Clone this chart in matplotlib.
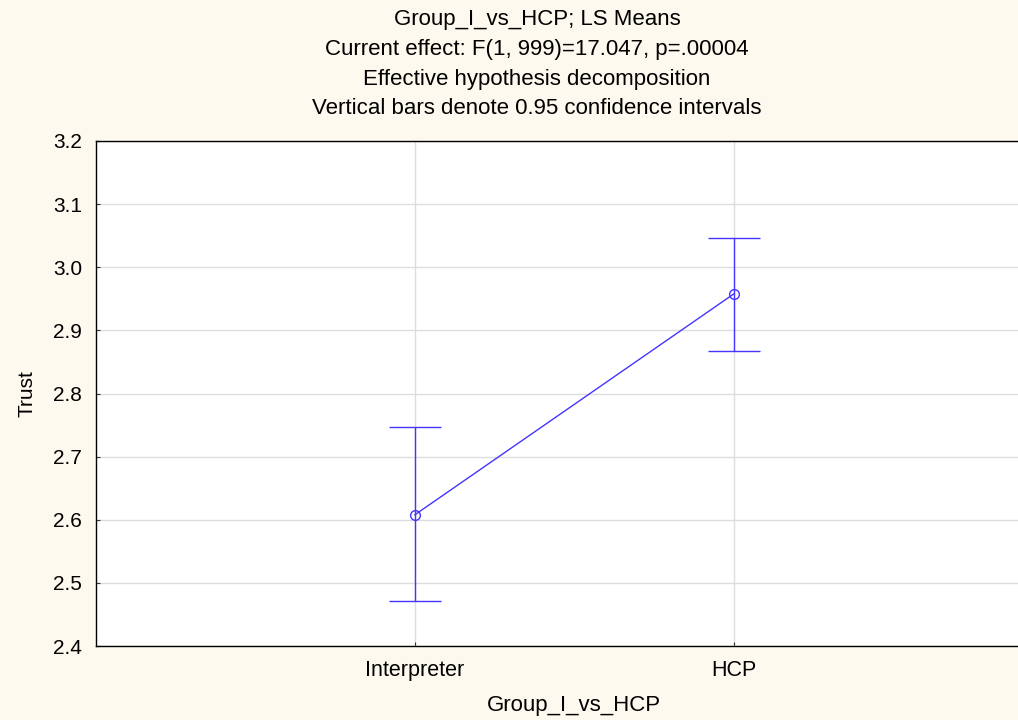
import matplotlib
matplotlib.use("Agg")
import matplotlib.pyplot as plt

categories = ["Interpreter", "HCP"]
means = [2.608, 2.958]
upper = [2.747, 3.047]
lower = [2.471, 2.867]
yticks = [2.4, 2.5, 2.6, 2.7, 2.8, 2.9, 3.0, 3.1, 3.2]
title_lines = ["Group_I_vs_HCP; LS Means",
               "Current effect: F(1, 999)=17.047, p=.00004",
               "Effective hypothesis decomposition",
               "Vertical bars denote 0.95 confidence intervals"]

plt.rcParams['font.family'] = ['Liberation Sans', 'DejaVu Sans']
bg = '#FEF9EE'
line_col = '#4634FF'

fig = plt.figure(figsize=(10.18, 7.2), dpi=100, facecolor=bg)
ax = fig.add_axes([96/1018, 74/720, 957/1018, 505/720])
ax.set_facecolor('white')

x = list(range(1, len(categories) + 1))
yerr = [[m - l for m, l in zip(means, lower)], [u - m for u, m in zip(upper, means)]]
ax.errorbar(x, means, yerr=yerr, color=line_col, lw=1.0, marker='o', ms=7,
            mfc='none', mec=line_col, mew=1.0, capsize=19, capthick=1.0, zorder=3)

ax.set_xlim(0, len(categories) + 1)
ax.set_ylim(2.4, 3.2)
ax.set_xticks(x)
ax.set_xticklabels(categories, fontsize=15.5)
ax.set_yticks(yticks)
ax.set_yticklabels([f"{v:.1f}" for v in yticks], fontsize=15)
ax.grid(True, color='#DDDDDD', lw=1.0, zorder=0)
ax.set_axisbelow(True)
ax.tick_params(axis='both', direction='in', length=3, width=0.8, color='#333333', pad=10)
for s in ['left', 'bottom', 'top']:
    ax.spines[s].set_color('black')
    ax.spines[s].set_linewidth(1.0)
ax.spines['right'].set_visible(False)

ax.set_ylabel("Trust", fontsize=15, labelpad=12)
ax.set_xlabel("Group_I_vs_HCP", fontsize=16, va='center')
ax.xaxis.set_label_coords((574 - 96) / 957, -(705 - 646) / 505)

for i, t in enumerate(title_lines):
    fig.text(537 / 1018, 1 - (19 + 30 * i) / 720, t, ha='center', va='center', fontsize=16)

fig.savefig("out.png", dpi=100, facecolor=bg)
